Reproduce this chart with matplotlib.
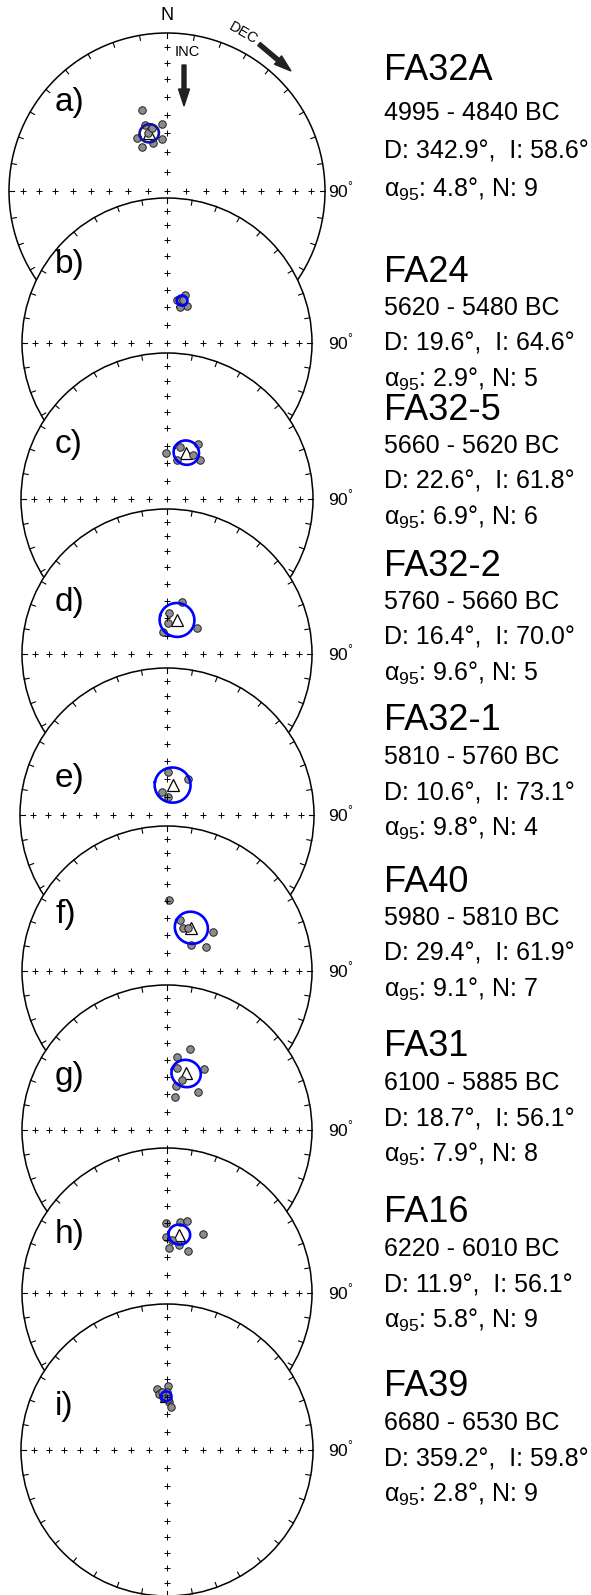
import numpy as np
import matplotlib
matplotlib.use("Agg")
import matplotlib.pyplot as plt
from matplotlib.patches import Circle, FancyArrow

plt.rcParams['font.family'] = ['Liberation Sans', 'DejaVu Sans']
plt.rcParams['mathtext.fontset'] = 'custom'
plt.rcParams['mathtext.rm'] = 'Liberation Sans'
plt.rcParams['mathtext.it'] = 'Liberation Sans:italic'

# site results
sites = ['FA32A', 'FA24', 'FA32-5', 'FA32-2', 'FA32-1', 'FA40', 'FA31', 'FA16', 'FA39']
ages = ['4995 - 4840 BC', '5620 - 5480 BC', '5660 - 5620 BC', '5760 - 5660 BC',
        '5810 - 5760 BC', '5980 - 5810 BC', '6100 - 5885 BC', '6220 - 6010 BC',
        '6680 - 6530 BC']
mean_dec = [342.9, 19.6, 22.6, 16.4, 10.6, 29.4, 18.7, 11.9, 359.2]
mean_inc = [58.6, 64.6, 61.8, 70.0, 73.1, 61.9, 56.1, 56.1, 59.8]
a95 = [4.8, 2.9, 6.9, 9.6, 9.8, 9.1, 7.9, 5.8, 2.8]
n_spec = [9, 5, 6, 5, 4, 7, 8, 9, 9]
panel = ['a)', 'b)', 'c)', 'd)', 'e)', 'f)', 'g)', 'h)', 'i)']

# specimen directions
dec_a = [342.7, 356.0, 330.1, 354.1, 330.3, 344.2, 341.6, 341.9, 346.6]
inc_a = [45.3, 55.0, 58.4, 63.0, 63.6, 64.0, 53.8, 58.3, 56.3]
dec_b = [20.6, 12.7, 28.0, 19.7, 20.8]
inc_b = [61.0, 65.2, 66.4, 68.3, 64.1]
dec_c = [358.4, 14.4, 29.4, 14.0, 30.3, 39.6]
inc_c = [64.5, 59.8, 54.2, 67.4, 61.2, 61.4]
dec_d = [15.7, 3.2, 1.3, 350.3, 48.5]
inc_d = [59.3, 66.7, 72.8, 77.7, 67.7]
dec_e = [0.9, 29.9, 348.6, 4.1]
inc_e = [66.2, 66.8, 76.8, 79.8]
dec_f = [1.6, 14.6, 19.9, 42.3, 58.1, 50.1, 26.0]
inc_f = [49.5, 60.2, 64.0, 70.2, 64.1, 55.9, 63.0]
dec_g = [15.9, 8.0, 9.5, 31.4, 16.4, 11.5, 13.5, 39.2]
inc_g = [41.6, 47.6, 54.4, 49.2, 60.6, 64.6, 70.8, 62.6]
dec_h = [358.9, 10.3, 15.7, 359.0, 2.9, 14.0, 26.1, 31.6, 5.4]
inc_h = [50.2, 48.6, 47.0, 58.5, 64.6, 61.9, 63.4, 50.5, 59.9]
dec_i = [350.9, 0.6, 352.2, 2.7, 5.0, 355.7, 0.0, 1.1, 355.1]
inc_i = [55.4, 53.8, 58.2, 63.0, 66.0, 60.2, 57.4, 61.4, 57.2]
spec_dec = [dec_a, dec_b, dec_c, dec_d, dec_e, dec_f, dec_g, dec_h, dec_i]
spec_inc = [inc_a, inc_b, inc_c, inc_d, inc_e, inc_f, inc_g, inc_h, inc_i]

# layout (pixels)
W, H = 591, 1595
net_cx = 167
net_cy = [191, 343, 499, 654, 815, 971, 1130, 1293, 1450]
net_r = [158, 145, 146, 145, 147, 145, 145, 145, 146]
label_y = [102, 265, 445, 602, 778, 915, 1076, 1234, 1407]
title_y = [71, 272, 410, 566, 721, 882, 1047, 1213, 1387]
line_dy = [[42, 80, 118]] + [[36, 72, 107]] * 8


def project(dec, inc, cx, cy, r):
    """Equal-area (Schmidt) projection, lower hemisphere."""
    d = np.radians(np.asarray(dec, float))
    rho = r * np.sqrt(2) * np.sin(np.radians(90 - np.asarray(inc, float)) / 2)
    return cx + rho * np.sin(d), cy - rho * np.cos(d)


def cone(dec, inc, alpha, n=120):
    """Small circle of radius alpha around a direction."""
    d, i, a = np.radians([dec, inc, alpha])
    m = np.array([np.cos(i) * np.cos(d), np.cos(i) * np.sin(d), np.sin(i)])
    u = np.cross(m, [0, 0, 1.0])
    u /= np.linalg.norm(u)
    v = np.cross(m, u)
    t = np.linspace(0, 2 * np.pi, n)
    p = np.cos(a) * m[:, None] + np.sin(a) * (np.cos(t) * u[:, None] + np.sin(t) * v[:, None])
    return np.degrees(np.arctan2(p[1], p[0])), np.degrees(np.arcsin(p[2]))


def draw_net(ax, k):
    cx, cy, r = net_cx, net_cy[k], net_r[k]
    z = 10 * (k + 1)
    ax.add_patch(Circle((cx, cy), r, fc='white', ec='black', lw=1.1, zorder=z))
    for az in np.radians(np.arange(0, 360, 10)):
        ax.plot([cx + r * np.sin(az), cx + (r - 5) * np.sin(az)],
                [cy - r * np.cos(az), cy - (r - 5) * np.cos(az)],
                color='black', lw=0.8, zorder=z + 1)
    incs = np.arange(10, 90, 10)
    for az in (0, 90, 180, 270):
        x, y = project(np.full(len(incs), az), incs, cx, cy, r)
        ax.plot(x, y, '+', color='black', ms=5, mew=0.7, zorder=z + 4)
    ax.plot(cx, cy, '+', color='black', ms=5, mew=0.7, zorder=z + 4)

    # mean direction, specimens, confidence cone
    mx, my = project(mean_dec[k], mean_inc[k], cx, cy, r)
    ax.plot(mx, my, '^', ms=8.5, mfc='white', mec='black', mew=0.9, zorder=z + 2)
    sx, sy = project(spec_dec[k], spec_inc[k], cx, cy, r)
    ax.plot(sx, sy, 'o', ms=5.4, mfc='#8c8c8c', mec='#202020', mew=0.7,
            ls='none', zorder=z + 3)
    cd, ci = cone(mean_dec[k], mean_inc[k], a95[k])
    px, py = project(cd, ci, cx, cy, r)
    ax.plot(px, py, color='#14149a' if k == 0 else '#0000ff', lw=1.9, zorder=z + 5)

    ax.text(55, label_y[k], panel[k], fontsize=24, va='center', ha='left', zorder=z + 6)
    ax.text(328, cy, '90$^{°}$', fontsize=12.5, va='center', ha='left', zorder=200)

    # site text block
    ty = title_y[k]
    d1, d2, d3 = line_dy[k]
    ax.text(384, ty, sites[k], fontsize=26, va='center', zorder=200)
    ax.text(384, ty + d1, ages[k], fontsize=18, va='center', zorder=200)
    ax.text(384, ty + d2, f'D: {mean_dec[k]:.1f}°,  I: {mean_inc[k]:.1f}°',
            fontsize=18, va='center', zorder=200)
    ax.text(384, ty + d3, f'α$_{{95}}$: {a95[k]:.1f}°, N: {n_spec[k]}',
            fontsize=18, va='center', zorder=200)


fig = plt.figure(figsize=(W / 100, H / 100), dpi=100)
ax = fig.add_axes([0, 0, 1, 1])
ax.set_xlim(0, W)
ax.set_ylim(H, 0)
ax.axis('off')

for k in range(len(sites)):
    draw_net(ax, k)

# annotations on the first net
ax.text(net_cx, 16, 'N', fontsize=13, ha='center', va='center', zorder=200)
ax.text(187, 52, 'INC', fontsize=10.5, ha='center', va='center', zorder=200)
ax.add_patch(FancyArrow(184, 65, 0, 41, width=4, head_width=11, head_length=17,
                        length_includes_head=True, color='#222222', zorder=200))
ax.text(243, 33, 'DEC', fontsize=10.5, ha='center', va='center', rotation=-30, zorder=200)
ax.add_patch(FancyArrow(259, 44, 32, 27, width=4, head_width=11, head_length=17,
                        length_includes_head=True, color='#222222', zorder=200))

fig.savefig('out.png', dpi=100)
